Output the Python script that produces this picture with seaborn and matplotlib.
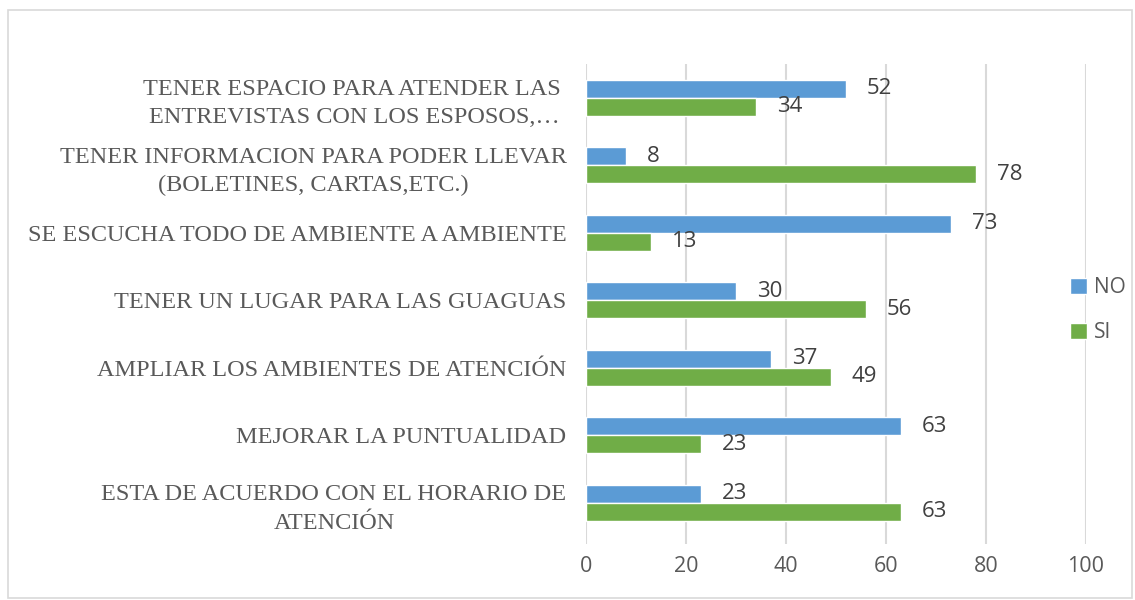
import matplotlib.pyplot as plt
import pandas as pd
import seaborn as sns
from matplotlib.patches import Rectangle

categories = [
    "TENER ESPACIO PARA ATENDER LAS \nENTREVISTAS CON LOS ESPOSOS,…",
    "TENER INFORMACION PARA PODER LLEVAR\n(BOLETINES, CARTAS,ETC.)",
    "SE ESCUCHA TODO DE AMBIENTE A AMBIENTE",
    "TENER UN LUGAR PARA LAS GUAGUAS",
    "AMPLIAR LOS AMBIENTES DE ATENCIÓN",
    "MEJORAR LA PUNTUALIDAD",
    "ESTA DE ACUERDO CON EL HORARIO DE\nATENCIÓN",
]
no_vals = [52, 8, 73, 30, 37, 63, 23]
si_vals = [34, 78, 13, 56, 49, 23, 63]
series = ["NO", "SI"]
x_ticks = [0, 20, 40, 60, 80, 100]

colors = {"NO": "#5B9BD5", "SI": "#70AD47"}
text_gray = "#595959"

df = pd.DataFrame({
    "categoria": categories * 2,
    "serie": ["NO"] * len(categories) + ["SI"] * len(categories),
    "valor": no_vals + si_vals,
})

sns.set_style("white")
plt.rcParams["font.family"] = ["Open Sans", "DejaVu Sans"]

fig = plt.figure(figsize=(11.35, 6), dpi=100)
ax = fig.add_axes([586 / 1135, 1 - 544 / 600, 500 / 1135, 480 / 600])

sns.barplot(
    data=df, y="categoria", x="valor", hue="serie", order=categories,
    hue_order=series, palette=colors, orient="h", width=0.53,
    saturation=1, ax=ax, legend=True,
)

for cont in ax.containers:
    ax.bar_label(cont, padding=15, fontsize=16, color="#404040")

ax.set_xlim(0, 100)
ax.set_ylim(6.61, -0.5)
ax.set_xticks(x_ticks)
ax.xaxis.grid(True, color="#D9D9D9", linewidth=1.5)
ax.set_axisbelow(True)
for s in ax.spines.values():
    s.set_visible(False)
ax.tick_params(axis="x", length=0, pad=9, labelsize=15.5, labelcolor=text_gray)
ax.tick_params(axis="y", length=0, pad=14)
for lbl in ax.get_yticklabels():
    lbl.set_family(["Liberation Serif", "DejaVu Serif"])
    lbl.set_fontsize(17.5)
    lbl.set_color(text_gray)
    lbl.set_horizontalalignment("right")
    lbl.set_multialignment("center")
    lbl.set_linespacing(1.45)
ax.set_xlabel("")
ax.set_ylabel("")

handles, labels = ax.get_legend_handles_labels()
ax.legend(
    handles, labels, loc="center left", bbox_to_anchor=(1070 / 1135, 1 - 310 / 600),
    bbox_transform=fig.transFigure, frameon=False, fontsize=15, borderpad=0,
    borderaxespad=0, labelcolor=text_gray, handlelength=0.8, handleheight=0.8,
    handletextpad=0.35, labelspacing=1.15,
)

fig.patches.append(Rectangle(
    (8 / 1135, 2 / 600), 1124 / 1135, 588 / 600, transform=fig.transFigure,
    fill=False, edgecolor="#D9D9D9", linewidth=1.2,
))

fig.savefig("out.png", dpi=100)
